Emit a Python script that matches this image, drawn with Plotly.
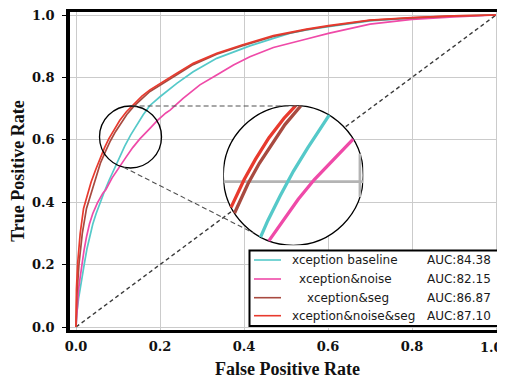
import math
import plotly.graph_objects as go

# ---------------- data ----------------
series_names = ["xception baseline", "xception&noise", "xception&seg", "xception&noise&seg"]
auc_labels = ["AUC:84.38", "AUC:82.15", "AUC:86.87", "AUC:87.10"]
colors = ["#55c9c9", "#ef4aa8", "#a84a40", "#e83a2e"]

fpr_base = [0, 0.002, 0.006, 0.010, 0.015, 0.020, 0.026, 0.032, 0.040, 0.048, 0.057, 0.067,
            0.078, 0.090, 0.103, 0.116, 0.130, 0.145, 0.160, 0.176, 0.200, 0.240, 0.279,
            0.335, 0.395, 0.414, 0.470, 0.510, 0.549, 0.601, 0.700, 0.800, 0.900, 1.0]
tpr_base = [0, 0.044, 0.090, 0.119, 0.165, 0.204, 0.250, 0.289, 0.330, 0.364, 0.398, 0.432,
            0.468, 0.505, 0.545, 0.580, 0.615, 0.648, 0.680, 0.710, 0.738, 0.781, 0.818,
            0.861, 0.890, 0.901, 0.925, 0.942, 0.952, 0.963, 0.981, 0.990, 0.996, 1.0]

fpr_noise = [0, 0.002, 0.006, 0.010, 0.014, 0.019, 0.025, 0.032, 0.040, 0.051, 0.064, 0.071,
             0.086, 0.103, 0.118, 0.135, 0.152, 0.175, 0.194, 0.214, 0.224, 0.255, 0.295,
             0.335, 0.375, 0.414, 0.470, 0.549, 0.601, 0.700, 0.800, 0.900, 1.0]
tpr_noise = [0, 0.044, 0.119, 0.160, 0.204, 0.245, 0.289, 0.330, 0.364, 0.398, 0.429, 0.440,
             0.478, 0.514, 0.542, 0.575, 0.603, 0.635, 0.662, 0.686, 0.695, 0.733, 0.776,
             0.808, 0.840, 0.866, 0.896, 0.923, 0.941, 0.971, 0.986, 0.994, 1.0]

fpr_seg = [0, 0.002, 0.007, 0.015, 0.025, 0.036, 0.046, 0.058, 0.070, 0.082, 0.094, 0.107,
           0.121, 0.138, 0.157, 0.176, 0.200, 0.240, 0.279, 0.335, 0.395, 0.470, 0.549,
           0.601, 0.700, 0.800, 0.900, 1.0]
tpr_seg = [0, 0.100, 0.200, 0.300, 0.380, 0.430, 0.475, 0.525, 0.562, 0.597, 0.626, 0.653,
           0.681, 0.708, 0.733, 0.755, 0.775, 0.809, 0.841, 0.874, 0.901, 0.931, 0.953,
           0.964, 0.983, 0.991, 0.997, 1.0]

fpr_noise_seg = [0, 0.001, 0.004, 0.010, 0.018, 0.028, 0.036, 0.047, 0.058, 0.068, 0.078,
                 0.090, 0.104, 0.120, 0.138, 0.157, 0.176, 0.200, 0.240, 0.279, 0.335, 0.395,
                 0.470, 0.549, 0.601, 0.700, 0.800, 0.900, 1.0]
tpr_noise_seg = [0, 0.120, 0.205, 0.300, 0.380, 0.430, 0.465, 0.505, 0.545, 0.575, 0.603,
                 0.632, 0.662, 0.690, 0.716, 0.740, 0.760, 0.779, 0.813, 0.845, 0.877, 0.904,
                 0.934, 0.955, 0.966, 0.984, 0.992, 0.997, 1.0]

chance_x = [0.0, 1.0]
chance_y = [0.0, 1.0]

tick_vals = [0.0, 0.2, 0.4, 0.6, 0.8, 1.0]
tick_text = ["0.0", "0.2", "0.4", "0.6", "0.8", "1.0"]

# zoom region (small circle) in data units and magnification of the inset
zoom_cx, zoom_cy = 0.1298, 0.6090
zoom_r_px = 31.0
inset_r_px = 70.0

all_fpr = [fpr_base, fpr_noise, fpr_seg, fpr_noise_seg]
all_tpr = [tpr_base, tpr_noise, tpr_seg, tpr_noise_seg]

# ---------------- geometry ----------------
# the page body has an 8px margin, so the figure is laid out 8px up/left
OFF = 8
W, H = 505 - OFF, 384 - OFF
ML, MR, MT, MB = 70 - OFF, 0, 12 - OFF, 54
PX_PER_X = 420.0   # px per data unit along x
PX_PER_Y = 312.0   # px per data unit along y
X0_PX = 76.0 - OFF       # pixel of fpr = 0
Y0_PX = 327.0 - OFF      # pixel of tpr = 0
plot_w = W - ML - MR
plot_h = H - MT - MB
x_range = [(ML - X0_PX) / PX_PER_X, (W - MR - X0_PX) / PX_PER_X]
y_range = [(Y0_PX - (H - MB)) / PX_PER_Y, (Y0_PX - MT) / PX_PER_Y]


def px_to_paper(px, py):
    """reference-screen pixel -> paper coords"""
    px -= OFF
    py -= OFF
    return (px - ML) / plot_w, ((H - MB) - py) / plot_h


rx = zoom_r_px / PX_PER_X
ry = zoom_r_px / PX_PER_Y
small_cpx = (76.0 + zoom_cx * PX_PER_X, 327.0 - zoom_cy * PX_PER_Y)
big_cpx = (293.3, 175.3)

inset_dom_x = [px_to_paper(big_cpx[0] - inset_r_px, 0)[0], px_to_paper(big_cpx[0] + inset_r_px, 0)[0]]
inset_dom_y = [px_to_paper(0, big_cpx[1] + inset_r_px)[1], px_to_paper(0, big_cpx[1] - inset_r_px)[1]]
inset_xr = [zoom_cx - rx, zoom_cx + rx]
inset_yr = [zoom_cy - ry, zoom_cy + ry]


def clip_to_ellipse(xs, ys, cx, cy, ax, ay):
    ox, oy = [], []
    for i in range(len(xs) - 1):
        ux, uy = (xs[i] - cx) / ax, (ys[i] - cy) / ay
        dx, dy = (xs[i + 1] - xs[i]) / ax, (ys[i + 1] - ys[i]) / ay
        a = dx * dx + dy * dy
        b = 2 * (ux * dx + uy * dy)
        c = ux * ux + uy * uy - 1
        disc = b * b - 4 * a * c
        if a == 0 or disc <= 0:
            continue
        s = math.sqrt(disc)
        t0 = max(0.0, (-b - s) / (2 * a))
        t1 = min(1.0, (-b + s) / (2 * a))
        if t0 >= t1:
            continue
        for t in (t0, t1):
            px = xs[i] + t * (xs[i + 1] - xs[i])
            py = ys[i] + t * (ys[i + 1] - ys[i])
            if not ox or abs(ox[-1] - px) > 1e-12 or abs(oy[-1] - py) > 1e-12:
                ox.append(px)
                oy.append(py)
    return ox, oy


fig = go.Figure()

# chance diagonal
fig.add_trace(go.Scatter(x=chance_x, y=chance_y, mode="lines",
                         line=dict(color="#3a3a3a", width=1.4, dash="4px,3px"),
                         hoverinfo="skip", showlegend=False))

# main ROC curves
for name, c, fx, ty in zip(series_names, colors, all_fpr, all_tpr):
    fig.add_trace(go.Scatter(x=fx, y=ty, mode="lines", name=name,
                             line=dict(color=c, width=1.7), showlegend=False))

# magnified curves in inset
for name, c, fx, ty in zip(series_names, colors, all_fpr, all_tpr):
    cx_, cy_ = clip_to_ellipse(fx, ty, zoom_cx, zoom_cy, rx, ry)
    fig.add_trace(go.Scatter(x=cx_, y=cy_, mode="lines", name=name,
                             line=dict(color=c, width=3.3), showlegend=False,
                             xaxis="x2", yaxis="y2", hoverinfo="skip"))

shapes = []
# inset white disc with outline
shapes.append(dict(type="circle", xref="x2", yref="y2", layer="below",
                   x0=inset_xr[0], x1=inset_xr[1], y0=inset_yr[0], y1=inset_yr[1],
                   fillcolor="white", line=dict(color="black", width=1.3)))
# magnified grid lines inside inset
hw = rx * math.sqrt(max(0.0, 1 - ((0.6 - zoom_cy) / ry) ** 2))
shapes.append(dict(type="line", xref="x2", yref="y2", layer="below",
                   x0=zoom_cx - hw, x1=zoom_cx + hw, y0=0.6, y1=0.6,
                   line=dict(color="#b4b4b4", width=2.6)))
hh = ry * math.sqrt(max(0.0, 1 - ((0.2 - zoom_cx) / rx) ** 2))
shapes.append(dict(type="line", xref="x2", yref="y2", layer="below",
                   x0=0.2, x1=0.2, y0=zoom_cy - hh, y1=zoom_cy + hh,
                   line=dict(color="#b4b4b4", width=2.6)))
# small circle
shapes.append(dict(type="circle", xref="x", yref="y", layer="above",
                   x0=zoom_cx - rx, x1=zoom_cx + rx, y0=zoom_cy - ry, y1=zoom_cy + ry,
                   line=dict(color="black", width=1.3)))


# connecting dashed lines
def circ_pt(cpx, r, ang_deg):
    a = math.radians(ang_deg)
    return cpx[0] + r * math.cos(a), cpx[1] - r * math.sin(a)


for a_small, a_big in [(88, 82), (-103, -124)]:
    p = px_to_paper(*circ_pt(small_cpx, zoom_r_px, a_small))
    q = px_to_paper(*circ_pt(big_cpx, inset_r_px, a_big))
    shapes.append(dict(type="line", xref="paper", yref="paper", layer="above",
                       x0=p[0], y0=p[1], x1=q[0], y1=q[1],
                       line=dict(color="#505050", width=1.1, dash="5px,3px")))

# legend box
lb = px_to_paper(249.5, 326)
lt = px_to_paper(500, 250.5)
shapes.append(dict(type="rect", xref="paper", yref="paper", layer="above",
                   x0=lb[0], y0=lb[1], x1=lt[0], y1=lt[1],
                   fillcolor="white", line=dict(color="black", width=2)))
row_py = [260, 279, 297.7, 315.7]
name_left_px = [290, 297.3, 305, 290]
annotations = []
for i, (name, auc, c) in enumerate(zip(series_names, auc_labels, colors)):
    a = px_to_paper(254, row_py[i])
    b = px_to_paper(281, row_py[i])
    shapes.append(dict(type="line", xref="paper", yref="paper", layer="above",
                       x0=a[0], y0=a[1], x1=b[0], y1=b[1], line=dict(color=c, width=1.6)))
    n = px_to_paper(name_left_px[i], row_py[i])
    annotations.append(dict(x=n[0], y=n[1], xref="paper", yref="paper", text=name,
                            showarrow=False, xanchor="left", yanchor="middle",
                            font=dict(family="DejaVu Sans", size=12, color="#1a1a1a")))
    r = px_to_paper(492.5, row_py[i])
    annotations.append(dict(x=r[0], y=r[1], xref="paper", yref="paper", text=auc,
                            showarrow=False, xanchor="right", yanchor="middle",
                            font=dict(family="DejaVu Sans", size=12, color="#1a1a1a")))

tick_font = dict(family="DejaVu Serif", size=13, color="#111111", weight="bold")
title_font = dict(family="Liberation Serif", size=18, color="#111111", weight="bold")

# the last x tick label sits at the right page edge: draw it right-aligned so it stays whole
x_tick_text = tick_text[:-1] + [""]
lab = px_to_paper(504.5, 347)
annotations.append(dict(x=lab[0], y=lab[1], xref="paper", yref="paper", text=tick_text[-1],
                        showarrow=False, xanchor="right", yanchor="middle",
                        font=tick_font))

fig.update_layout(
    template="none",
    width=W, height=H,
    margin=dict(l=ML, r=MR, t=MT, b=MB, pad=0),
    paper_bgcolor="white",
    plot_bgcolor="rgba(0,0,0,0)",
    showlegend=False,
    shapes=shapes,
    annotations=annotations,
    xaxis=dict(range=x_range, tickvals=tick_vals, ticktext=x_tick_text, ticks="",
               showgrid=True, gridcolor="#cbcbcb", gridwidth=1.3, zeroline=False,
               showline=True, linecolor="black", linewidth=3, mirror=True,
               tickfont=tick_font, automargin=False, ticklabelstandoff=2,
               ticklabeloverflow="allow",
               title=dict(text="False Positive Rate", font=title_font, standoff=10)),
    yaxis=dict(range=y_range, tickvals=tick_vals, ticktext=tick_text, ticks="outside",
               ticklen=4, tickwidth=1, tickcolor="black",
               showgrid=True, gridcolor="#cbcbcb", gridwidth=1.3, zeroline=False,
               showline=True, linecolor="black", linewidth=3.5, mirror=False,
               tickfont=tick_font, automargin=False, ticklabelstandoff=5,
               ticklabeloverflow="allow",
               title=dict(text="True Positive Rate", font=title_font, standoff=8)),
    xaxis2=dict(domain=inset_dom_x, range=inset_xr, anchor="y2", visible=False),
    yaxis2=dict(domain=inset_dom_y, range=inset_yr, anchor="x2", visible=False),
)

fig.write_html("out.html")
